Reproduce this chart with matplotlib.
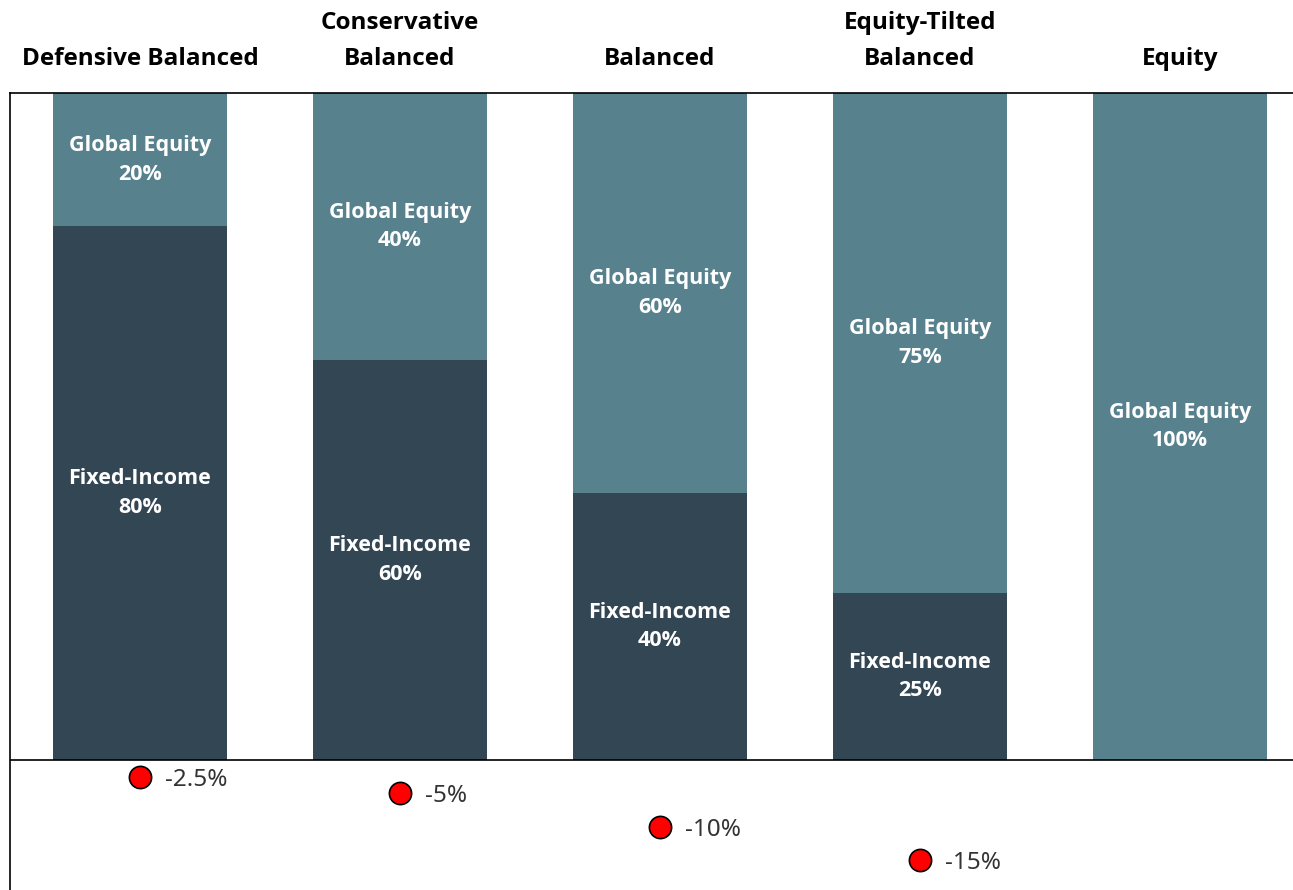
import matplotlib
matplotlib.use("Agg")
import matplotlib.pyplot as plt
import matplotlib.transforms as mtransforms

plt.rcParams['font.family'] = ['Open Sans', 'DejaVu Sans']

# portfolio data
portfolios = ['Defensive Balanced', 'Conservative\nBalanced', 'Balanced',
              'Equity-Tilted\nBalanced', 'Equity']
fixed_income = [80, 60, 40, 25, 0]
global_equity = [20, 40, 60, 75, 100]
drawdown = [-2.5, -5, -10, -15]
drawdown_labels = ['-2.5%', '-5%', '-10%', '-15%']

light = '#57818d'
dark = '#334654'

fig = plt.figure(figsize=(12.93, 8.9), dpi=100)
ax = fig.add_axes([10 / 1293, 0, 1283 / 1293, 797 / 890])

x = list(range(len(portfolios)))
w = 0.67
ax.bar(x, fixed_income, width=w, color=dark)
ax.bar(x, global_equity, width=w, bottom=fixed_income, color=light)

for i in x:
    if fixed_income[i] > 0:
        ax.text(i, fixed_income[i] / 2, 'Fixed-Income\n%d%%' % fixed_income[i],
                ha='center', va='center', color='white', fontsize=15.5,
                fontweight='bold', linespacing=1.48)
    ax.text(i, fixed_income[i] + global_equity[i] / 2,
            'Global Equity\n%d%%' % global_equity[i],
            ha='center', va='center', color='white', fontsize=15.5,
            fontweight='bold', linespacing=1.48)

# titles above the axes
trans = mtransforms.blended_transform_factory(ax.transData, ax.transAxes)
for i, name in enumerate(portfolios):
    ax.text(i, 1.028, name, transform=trans, ha='center', va='bottom',
            fontsize=17.5, fontweight='bold', linespacing=1.67)

# drawdown markers
dx = list(range(len(drawdown)))
ax.plot(dx, drawdown, 'o', color='red', markeredgecolor='black',
        markersize=16, markeredgewidth=1.2, linestyle='none', zorder=5)
for i, (v, lab) in enumerate(zip(drawdown, drawdown_labels)):
    ax.text(i + 0.098, v, lab, ha='left', va='center_baseline', fontsize=17.5,
            color='#333333', family=['Noto Sans', 'DejaVu Sans'])

ax.axhline(0, color='black', linewidth=1.2)
ax.set_xlim(-0.5, 4.435)
ax.set_ylim(-19.5, 100)
ax.set_xticks([])
ax.set_yticks([])
ax.spines['right'].set_visible(False)
ax.spines['bottom'].set_visible(False)
for s in ['top', 'left']:
    ax.spines[s].set_linewidth(1.2)

fig.savefig('out.png', dpi=100)
